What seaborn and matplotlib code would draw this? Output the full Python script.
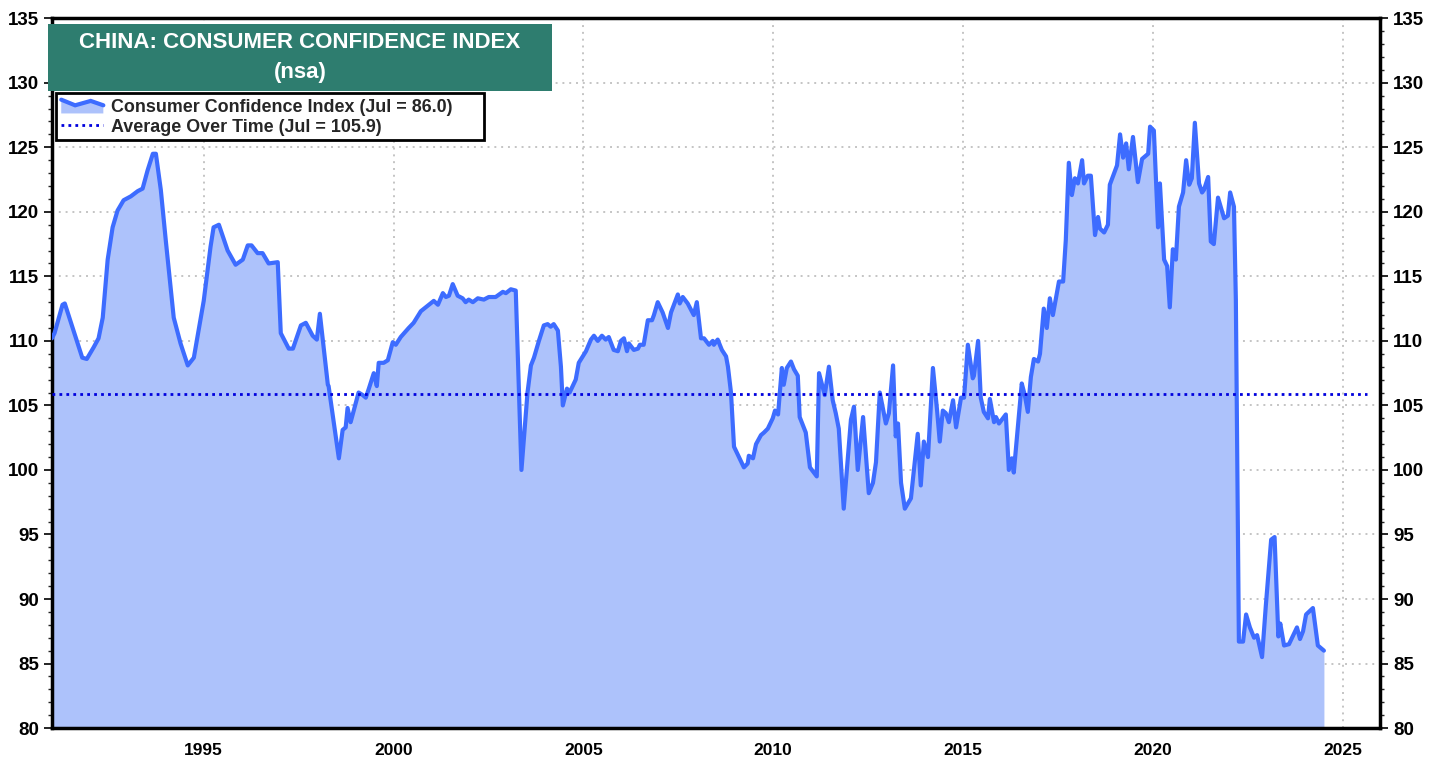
import pandas as pd
import matplotlib.pyplot as plt
import seaborn as sns
from matplotlib.patches import Rectangle, Polygon
from matplotlib.lines import Line2D
from matplotlib.legend_handler import HandlerBase
from matplotlib.ticker import MultipleLocator

# China consumer confidence index (decimal years)
years = [
    1991.00, 1991.07, 1991.28, 1991.34, 1991.80, 1991.92, 1992.10, 1992.23, 1992.34, 1992.47,
    1992.60, 1992.73, 1992.89, 1993.08, 1993.26, 1993.39, 1993.52, 1993.66, 1993.74, 1993.87,
    1994.00, 1994.21, 1994.39, 1994.58, 1994.74, 1995.00, 1995.18, 1995.26, 1995.40, 1995.63,
    1995.84, 1996.03, 1996.16, 1996.26, 1996.42, 1996.55, 1996.71, 1996.95, 1997.03, 1997.24,
    1997.35, 1997.56, 1997.69, 1997.87, 1997.98, 1998.06, 1998.27, 1998.29, 1998.56, 1998.66,
    1998.74, 1998.79, 1998.87, 1999.08, 1999.19, 1999.27, 1999.35, 1999.48, 1999.56, 1999.61,
    1999.74, 1999.85, 1999.98, 2000.06, 2000.19, 2000.40, 2000.53, 2000.72, 2000.93, 2001.06,
    2001.17, 2001.30, 2001.38, 2001.46, 2001.56, 2001.69, 2001.82, 2001.90, 2001.98, 2002.09,
    2002.22, 2002.38, 2002.51, 2002.69, 2002.88, 2002.96, 2003.09, 2003.22, 2003.37, 2003.53,
    2003.62, 2003.70, 2003.83, 2003.96, 2004.06, 2004.14, 2004.22, 2004.33, 2004.41, 2004.46,
    2004.57, 2004.64, 2004.80, 2004.88, 2005.07, 2005.20, 2005.28, 2005.38, 2005.49, 2005.59,
    2005.67, 2005.80, 2005.91, 2005.99, 2006.07, 2006.15, 2006.20, 2006.33, 2006.44, 2006.49,
    2006.59, 2006.70, 2006.81, 2006.86, 2006.96, 2007.09, 2007.23, 2007.31, 2007.49, 2007.54,
    2007.62, 2007.75, 2007.91, 2007.99, 2008.10, 2008.18, 2008.31, 2008.41, 2008.44, 2008.54,
    2008.65, 2008.76, 2008.81, 2008.89, 2008.97, 2009.10, 2009.23, 2009.33, 2009.36, 2009.47,
    2009.55, 2009.68, 2009.76, 2009.86, 2009.99, 2010.05, 2010.13, 2010.23, 2010.28, 2010.36,
    2010.47, 2010.55, 2010.65, 2010.70, 2010.86, 2010.97, 2011.15, 2011.21, 2011.28, 2011.36,
    2011.47, 2011.57, 2011.65, 2011.73, 2011.86, 2012.05, 2012.13, 2012.23, 2012.37, 2012.52,
    2012.63, 2012.71, 2012.81, 2012.97, 2013.05, 2013.16, 2013.23, 2013.29, 2013.37, 2013.47,
    2013.63, 2013.81, 2013.89, 2013.97, 2014.08, 2014.21, 2014.32, 2014.39, 2014.47, 2014.55,
    2014.63, 2014.74, 2014.82, 2014.95, 2015.03, 2015.13, 2015.26, 2015.29, 2015.40, 2015.47,
    2015.55, 2015.66, 2015.71, 2015.82, 2015.87, 2015.95, 2016.13, 2016.21, 2016.29, 2016.34,
    2016.55, 2016.63, 2016.71, 2016.79, 2016.87, 2016.98, 2017.03, 2017.13, 2017.21, 2017.29,
    2017.37, 2017.53, 2017.64, 2017.71, 2017.79, 2017.87, 2017.95, 2018.03, 2018.14, 2018.19,
    2018.29, 2018.37, 2018.48, 2018.56, 2018.61, 2018.72, 2018.82, 2018.87, 2019.06, 2019.14,
    2019.22, 2019.30, 2019.37, 2019.48, 2019.61, 2019.72, 2019.88, 2019.93, 2020.03, 2020.14,
    2020.19, 2020.30, 2020.38, 2020.45, 2020.53, 2020.61, 2020.69, 2020.80, 2020.88, 2020.96,
    2021.03, 2021.11, 2021.22, 2021.30, 2021.35, 2021.46, 2021.53, 2021.61, 2021.72, 2021.88,
    2021.98, 2022.04, 2022.14, 2022.19, 2022.27, 2022.38, 2022.46, 2022.56, 2022.67, 2022.75,
    2022.88, 2022.98, 2023.12, 2023.21, 2023.31, 2023.36, 2023.46, 2023.59, 2023.80, 2023.88,
    2023.96, 2024.04, 2024.22, 2024.35, 2024.51,
]
cci = [
    110.2, 110.6, 112.8, 112.9, 108.7, 108.6, 109.5, 110.2, 111.8, 116.3,
    118.8, 120.1, 120.9, 121.2, 121.6, 121.8, 123.2, 124.5, 124.5, 121.7,
    117.8, 111.8, 109.8, 108.1, 108.7, 113.1, 117.3, 118.8, 119.0, 117.0,
    115.9, 116.3, 117.4, 117.4, 116.8, 116.8, 116.0, 116.1, 110.6, 109.4,
    109.4, 111.2, 111.4, 110.4, 110.1, 112.1, 106.6, 106.5, 100.9, 103.1,
    103.3, 104.8, 103.7, 106.0, 105.8, 105.6, 106.3, 107.5, 106.5, 108.3,
    108.3, 108.5, 109.9, 109.7, 110.3, 111.0, 111.4, 112.3, 112.8, 113.1,
    112.8, 113.7, 113.4, 113.5, 114.4, 113.5, 113.3, 113.0, 113.2, 113.0,
    113.3, 113.2, 113.4, 113.4, 113.8, 113.7, 114.0, 113.9, 100.0, 106.0,
    108.1, 108.7, 110.0, 111.2, 111.3, 111.1, 111.3, 110.8, 108.0, 105.0,
    106.3, 106.0, 107.0, 108.3, 109.2, 110.1, 110.4, 110.0, 110.4, 110.1,
    110.3, 109.3, 109.2, 110.0, 110.2, 109.2, 109.8, 109.3, 109.4, 109.7,
    109.7, 111.6, 111.6, 112.0, 113.0, 112.2, 111.0, 112.2, 113.6, 112.9,
    113.4, 112.9, 112.0, 113.0, 110.2, 110.2, 109.7, 110.0, 109.7, 110.1,
    109.3, 108.8, 108.0, 106.0, 101.8, 101.0, 100.2, 100.5, 101.1, 100.9,
    102.0, 102.7, 102.9, 103.2, 104.0, 104.6, 104.3, 107.9, 106.6, 107.9,
    108.4, 107.8, 107.3, 104.1, 102.9, 100.2, 99.5, 107.5, 106.7, 105.8,
    108.0, 105.4, 104.4, 103.2, 97.0, 103.9, 104.9, 100.0, 104.1, 98.2,
    99.0, 100.6, 106.0, 103.6, 104.4, 108.1, 102.6, 103.6, 99.0, 97.0,
    97.8, 102.8, 98.8, 102.2, 101.0, 107.9, 104.6, 102.2, 104.6, 104.4,
    103.7, 105.4, 103.3, 105.6, 105.6, 109.7, 107.1, 107.3, 110.0, 105.6,
    104.5, 104.0, 105.5, 103.7, 104.1, 103.6, 104.3, 100.0, 100.9, 99.8,
    106.7, 105.8, 104.5, 107.2, 108.6, 108.4, 109.0, 112.5, 111.0, 113.3,
    112.0, 114.6, 114.6, 117.8, 123.8, 121.3, 122.6, 122.2, 124.0, 122.2,
    122.8, 122.8, 118.2, 119.6, 118.7, 118.4, 119.0, 122.1, 123.6, 126.0,
    124.2, 125.3, 123.3, 125.8, 122.3, 124.1, 124.5, 126.6, 126.3, 118.8,
    122.2, 116.3, 115.8, 112.6, 117.1, 116.3, 120.4, 121.5, 124.0, 122.1,
    122.6, 126.9, 122.2, 121.5, 121.7, 122.7, 117.7, 117.5, 121.1, 119.5,
    119.7, 121.5, 120.4, 113.2, 86.7, 86.7, 88.8, 87.8, 87.0, 87.2,
    85.5, 89.5, 94.6, 94.8, 87.1, 88.1, 86.4, 86.5, 87.8, 86.9,
    87.5, 88.8, 89.3, 86.4, 86.0,
]
avg_value = 105.9
title_lines = ["CHINA: CONSUMER CONFIDENCE INDEX", "(nsa)"]
legend_labels = ["Consumer Confidence Index (Jul = 86.0)", "Average Over Time (Jul = 105.9)"]
xticks = [1995, 2000, 2005, 2010, 2015, 2020, 2025]

df = pd.DataFrame({"year": years, "cci": cci})

sns.set_style("white")
plt.rcParams["font.family"] = ["Liberation Sans", "DejaVu Sans"]

line_c = "#3d6cff"
fill_c = "#adc2fb"
avg_c = "#0000dd"


class AreaHandler(HandlerBase):
    # little filled area with a zigzag line on top, like the reference legend
    def create_artists(self, legend, orig_handle, xdescent, ydescent, width, height, fontsize, trans):
        x0, y0 = -xdescent, -ydescent - 0.15 * height
        fx = [0, 0.33, 0.7, 1.0]
        fy = [1.1, 0.65, 1.0, 0.65]
        pts = [(x0 + a * width, y0 + b * height) for a, b in zip(fx, fy)]
        poly = Polygon(pts + [(x0 + width, y0), (x0, y0)], closed=True,
                       facecolor=fill_c, edgecolor="none", transform=trans)
        ln = Line2D([p[0] for p in pts], [p[1] for p in pts], color=line_c, lw=3,
                    solid_joinstyle="miter", transform=trans)
        return [poly, ln]


fig = plt.figure(figsize=(14.41, 7.6), dpi=100)
ax = fig.add_axes([0.036, 0.042, 0.922, 0.934])

ax.fill_between(df["year"], df["cci"], 80, color=fill_c, lw=0, zorder=1)
sns.lineplot(data=df, x="year", y="cci", ax=ax, color=line_c, lw=3, zorder=3)
ax.axhline(avg_value, xmin=0, xmax=0.99, color=avg_c, ls=(0, (1, 1.5)), lw=2, zorder=4)

ax.set_xlim(1991, 2026)
ax.set_ylim(80, 135)
ax.set_xticks(xticks)
ax.set_yticks(range(80, 136, 5))
ax.yaxis.set_minor_locator(MultipleLocator(1))
ax.set_xlabel("")
ax.set_ylabel("")
ax.grid(True, ls=(0, (1, 2.5)), color="#c4c4c4", lw=1.4, zorder=0)
ax.set_axisbelow(True)

ax.tick_params(axis="both", which="major", direction="out", length=6, width=1.2, colors="black")
ax.tick_params(axis="y", which="both", left=True, right=True, labelleft=True, labelright=True)
ax.tick_params(axis="y", which="major", labelsize=13.5, pad=3)
ax.tick_params(axis="y", which="minor", length=3, width=1)
ax.tick_params(axis="x", which="major", labelsize=12.5, pad=5)
for lab in ax.get_xticklabels() + ax.get_yticklabels():
    lab.set_fontweight("bold")
for t in ax.yaxis.get_major_ticks():
    t.label2.set_fontweight("bold")
for s in ax.spines.values():
    s.set_linewidth(2.5)
    s.set_color("black")

# title box
ax.add_patch(Rectangle((-0.003, 0.897), 0.3795, 0.0945, transform=ax.transAxes,
                       facecolor="#2e7d6f", edgecolor="none", zorder=6, clip_on=False))
ax.text(0.1867, 0.966, title_lines[0], transform=ax.transAxes, ha="center", va="center",
        color="white", fontsize=16, fontweight="bold", zorder=7)
ax.text(0.1867, 0.924, title_lines[1], transform=ax.transAxes, ha="center", va="center",
        color="white", fontsize=16, fontweight="bold", zorder=7)

# legend box is wider than its text in the original, so draw the frame by hand
ax.add_patch(Rectangle((0.003, 0.8282), 0.3223, 0.0662, transform=ax.transAxes,
                       facecolor="white", edgecolor="black", lw=2, zorder=7.5))

area_key = object()
handles = [area_key, Line2D([], [], color=avg_c, ls=(0, (1, 1.5)), lw=2)]
leg = ax.legend(handles, legend_labels, loc="upper left", bbox_to_anchor=(0.003, 0.8944),
                handler_map={area_key: AreaHandler()}, frameon=False,
                prop={"size": 12.9, "weight": "bold"}, borderpad=0.3, labelspacing=0.17,
                handlelength=2.35, handletextpad=0.45, borderaxespad=0)
leg.set_zorder(8)

plt.savefig("out.png", dpi=100)
